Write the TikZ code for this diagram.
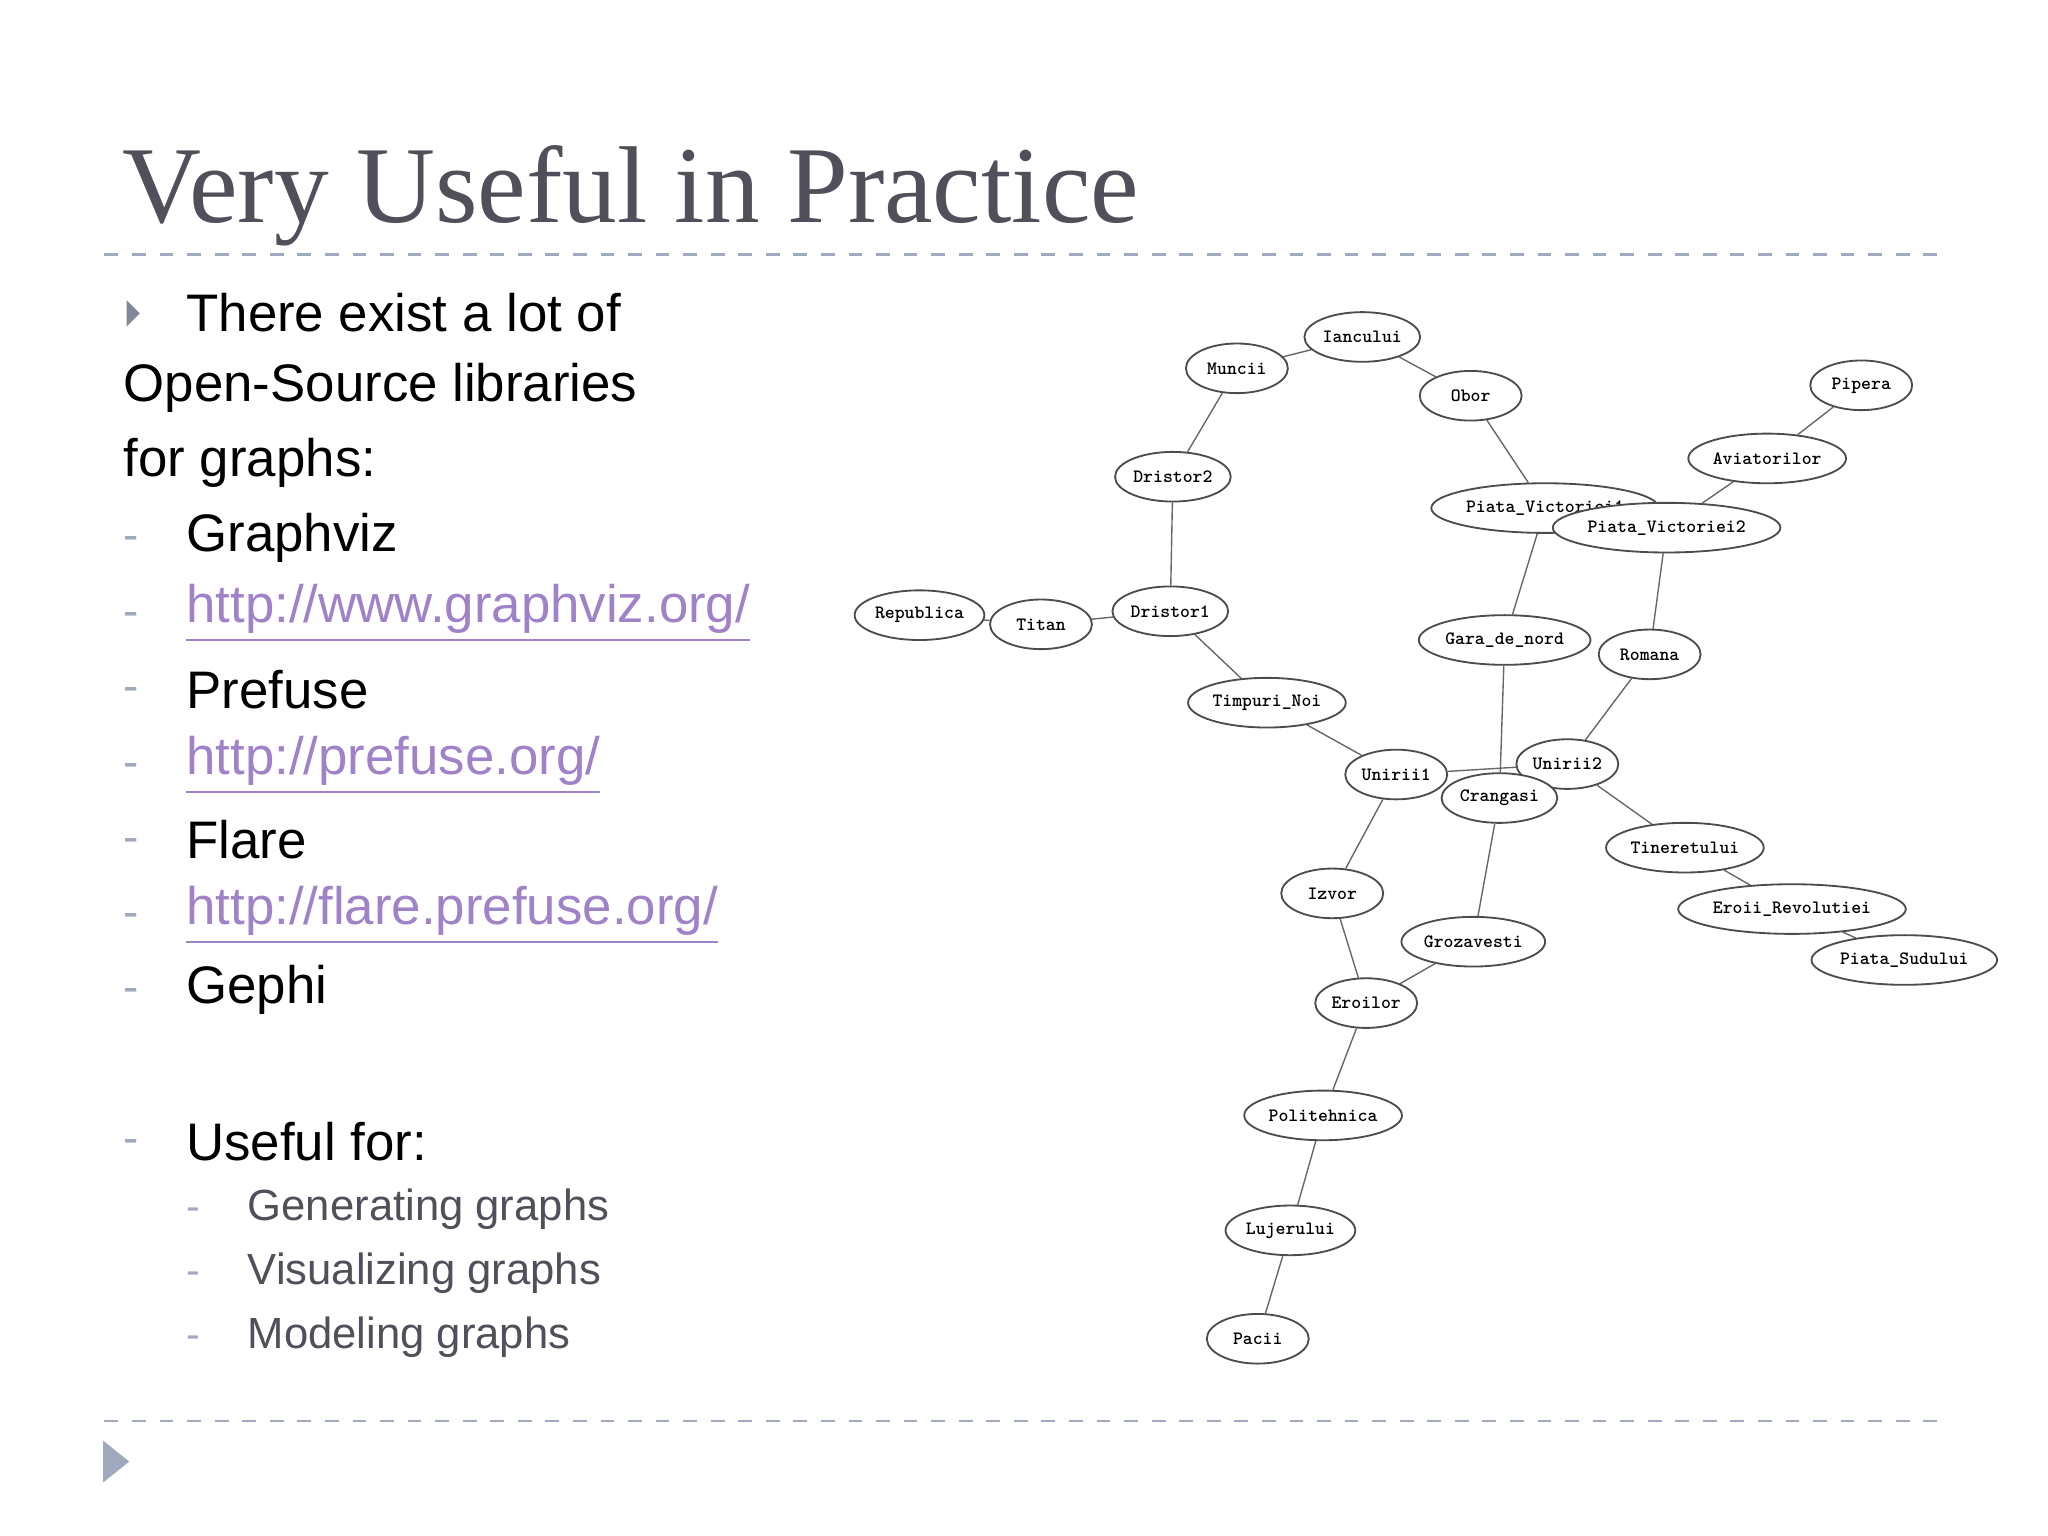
\documentclass[tikz,border=0pt]{standalone}
\usepackage{fontspec}
\setmainfont{Liberation Sans}
\newfontfamily\titlefont{Liberation Serif}
\usetikzlibrary{shapes.geometric,backgrounds}
\definecolor{slidegray}{RGB}{80,80,90}
\definecolor{linkpurple}{RGB}{160,130,200}
\definecolor{rulecol}{RGB}{160,170,190}
\tikzset{
  station/.style={ellipse, draw=black!70, fill=white, font=\ttfamily\bfseries\fontsize{4.1}{5}\selectfont,
    minimum width=0.78cm, minimum height=0.38cm, inner sep=0.3pt},
  track/.style={draw=black!60, line width=0.3pt},
  bodytext/.style={anchor=west, font=\fontsize{11.5}{13}\selectfont, inner sep=0pt},
  subtext/.style={anchor=west, font=\fontsize{9.5}{11}\selectfont, text=slidegray, inner sep=0pt},
  dashmark/.style={anchor=west, text=rulecol, inner sep=0pt}
}
\begin{document}
\begin{tikzpicture}[x=0.01cm,y=-0.01cm]
\useasboundingbox (0,0) rectangle (1568,1176);
% title and rules
\node[anchor=west, inner sep=0pt, font=\titlefont\fontsize{23.8}{26}\selectfont, text=slidegray] (title) at (93,150) {Very Useful in Practice};
\draw[rulecol, dashed, line width=0.6pt] (80,195) -- (1490,195);
\draw[rulecol, dashed, line width=0.6pt] (80,1088) -- (1490,1088);
\fill[rulecol!80!black] (97,230) -- (107,240) -- (97,250) -- cycle;
\fill[rulecol] (79,1103) -- (99,1119) -- (79,1135) -- cycle;
% bullet text
\node[bodytext] (l1) at (142,239) {There exist a lot of};
\node[bodytext] (l2) at (94,297) {Open-Source libraries};
\node[bodytext] (l3) at (94,354) {for graphs:};
\foreach \y/\t in {412/Graphviz, 528/Prefuse, 643/Flare, 758/Gephi, 874/Useful for:}
  {\node[dashmark] at (94,\y+4) {-}; \node[bodytext] at (142,\y) {\t};}
\foreach \y in {470,586,701} {\node[dashmark] at (94,\y+4) {-};}
\node[bodytext, text=linkpurple] (url1) at (142,470) {\underline{http://www.graphviz.org/}};
\node[bodytext, text=linkpurple] (url2) at (142,586) {\underline{http://prefuse.org/}};
\node[bodytext, text=linkpurple] (url3) at (142,701) {\underline{http://flare.prefuse.org/}};
\foreach \y/\t in {926/Generating graphs, 975/Visualizing graphs, 1024/Modeling graphs}
  {\node[dashmark, font=\small] at (142,\y+4) {-}; \node[subtext] at (189,\y) {\t};}
% graph
\node[station] (ianc) at (1043,258) {Iancului};
\node[station] (munc) at (947,282) {Muncii};
\node[station] (obor) at (1126,303) {Obor};
\node[station] (pipe) at (1425,295) {Pipera};
\node[station] (avia) at (1353,351) {Aviatorilor};
\node[station] (dri2) at (898,365) {Dristor2};
\node[station] (pvi1) at (1183,389) {Piata\_Victoriei1};
\node[station] (pvi2) at (1276,404) {Piata\_Victoriei2};
\node[station] (repu) at (704,471) {Republica};
\node[station] (tita) at (797,478) {Titan};
\node[station] (dri1) at (896,468) {Dristor1};
\node[station] (gara) at (1152,490) {Gara\_de\_nord};
\node[station] (roma) at (1263,501) {Romana};
\node[station] (timp) at (970,538) {Timpuri\_Noi};
\node[station] (uni1) at (1069,593) {Unirii1};
\node[station] (uni2) at (1200,585) {Unirii2};
\node[station] (cran) at (1148,611) {Crangasi};
\node[station] (tine) at (1290,649) {Tineretului};
\node[station] (izvo) at (1020,684) {Izvor};
\node[station] (groz) at (1128,721) {Grozavesti};
\node[station] (eroi) at (1372,696) {Eroii\_Revolutiei};
\node[station] (psud) at (1458,735) {Piata\_Sudului};
\node[station] (erol) at (1046,768) {Eroilor};
\node[station] (poli) at (1013,854) {Politehnica};
\node[station] (luje) at (988,942) {Lujerului};
\node[station] (paci) at (963,1025) {Pacii};
\begin{scope}[on background layer]
\foreach \a/\b in {munc/ianc, ianc/obor, obor/pvi1, munc/dri2, dri2/dri1, pipe/avia, avia/pvi2,
  pvi1/gara, pvi2/roma, repu/tita, tita/dri1, dri1/timp, timp/uni1, gara/cran, roma/uni2,
  uni1/uni2, uni2/tine, tine/eroi, eroi/psud, uni1/izvo, cran/groz, izvo/erol, groz/erol,
  erol/poli, poli/luje, luje/paci}
  \draw[track] (\a) -- (\b);
\end{scope}
\end{tikzpicture}
\end{document}
